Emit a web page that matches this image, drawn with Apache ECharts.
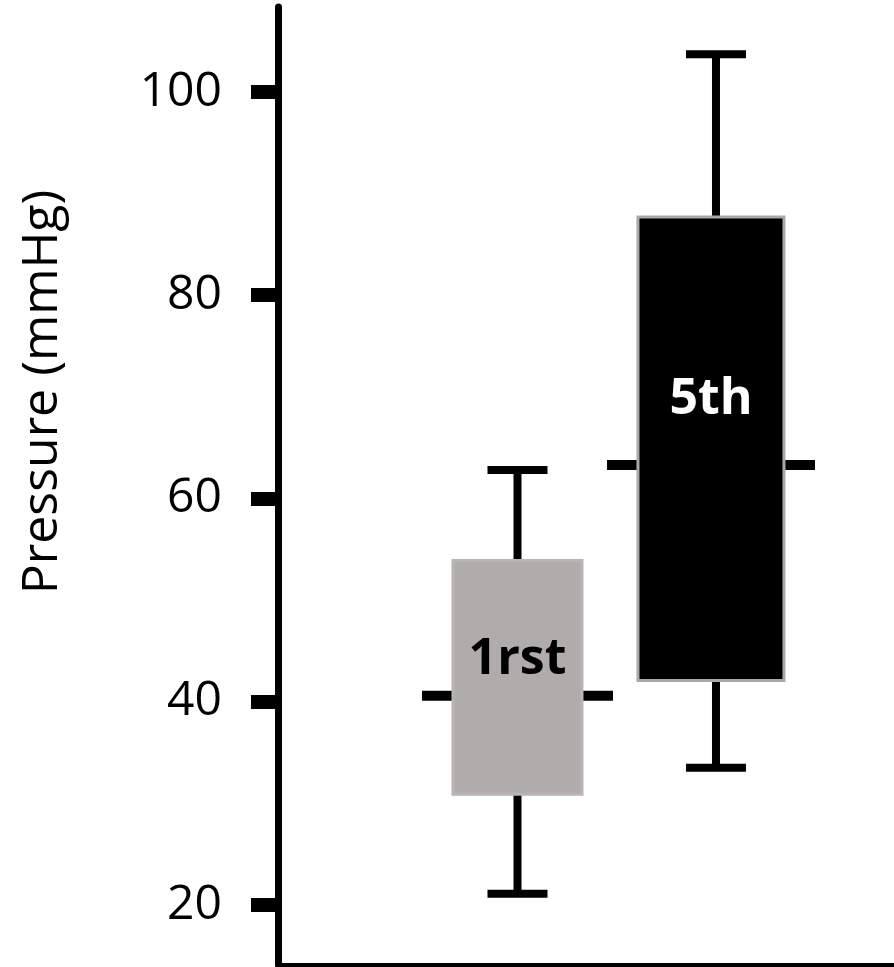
<!DOCTYPE html>
<html>
<head>
<meta charset="utf-8">
<script src="https://cdn.jsdelivr.net/npm/echarts@6/dist/echarts.min.js"></script>
<style>
  html, body { margin: 0; padding: 0; background: #fff; }
  #chart { width: 894px; height: 967px; }
</style>
</head>
<body>
<div id="chart"></div>
<script>
// ---- data ----
var categories  = ['1rst', '5th'];
var whiskerLow  = [21.1, 33.5];
var q1          = [30.9, 42.1];
var median      = [40.6, 63.3];
var q3          = [53.9, 87.7];
var whiskerHigh = [62.8, 103.7];
var yTickValues = [20, 40, 60, 80, 100];
var yAxisTitle  = 'Pressure (mmHg)';

// ---- styles ----
var boxFill     = ['#b0acab', '#000000'];
var boxStroke   = ['#b8b5b4', '#a9a9a9'];
var labelColor  = ['#000000', '#ffffff'];
var boxWidthPx  = [129, 146];
var whiskerShiftPx = [0, 5];
var labelOffsetPx  = [-36, -65];
var capHalf = 30, medianOut = 31;

var seriesData = categories.map(function (c, i) {
  return [i, whiskerLow[i], q1[i], median[i], q3[i], whiskerHigh[i]];
});

var chart = echarts.init(document.getElementById('chart'));

function renderItem(params, api) {
  var i = params.dataIndex;
  var x = api.value(0);
  var pLow = api.coord([x, api.value(1)]);
  var pQ1 = api.coord([x, api.value(2)]);
  var pMed = api.coord([x, api.value(3)]);
  var pQ3 = api.coord([x, api.value(4)]);
  var pHigh = api.coord([x, api.value(5)]);
  var cx = pMed[0];
  var wx = cx + whiskerShiftPx[i];
  var hw = boxWidthPx[i] / 2;
  var black = '#000';
  return {
    type: 'group',
    children: [
      { type: 'line', shape: { x1: wx, y1: pLow[1], x2: wx, y2: pHigh[1] },
        style: { stroke: black, lineWidth: 8 } },
      { type: 'line', shape: { x1: wx - capHalf, y1: pHigh[1], x2: wx + capHalf, y2: pHigh[1] },
        style: { stroke: black, lineWidth: 8 } },
      { type: 'line', shape: { x1: wx - capHalf, y1: pLow[1], x2: wx + capHalf, y2: pLow[1] },
        style: { stroke: black, lineWidth: 8 } },
      { type: 'line', shape: { x1: cx - hw - medianOut, y1: pMed[1], x2: cx + hw + medianOut, y2: pMed[1] },
        style: { stroke: black, lineWidth: 10 } },
      { type: 'rect', shape: { x: cx - hw, y: pQ3[1], width: hw * 2, height: pQ1[1] - pQ3[1] },
        style: { fill: boxFill[i], stroke: boxStroke[i], lineWidth: 3 } },
      { type: 'text', x: cx, y: pMed[1] + labelOffsetPx[i],
        style: { text: categories[i], fill: labelColor[i], font: 'bold 50px "Open Sans"',
                 align: 'center', verticalAlign: 'middle' } }
    ]
  };
}

chart.setOption({
  animation: false,
  grid: { left: 278, right: 0, top: 7, bottom: 2, containLabel: false },
  xAxis: {
    type: 'value', min: -1.2377, max: 1.9458,
    axisLine: { show: true, onZero: false, lineStyle: { color: '#000', width: 5 } },
    axisTick: { show: false }, axisLabel: { show: false }, splitLine: { show: false }
  },
  yAxis: {
    type: 'value', min: 14.1, max: 108.36,
    axisLine: { show: true, onZero: false, lineStyle: { color: '#000', width: 7 } },
    axisTick: { show: true, customValues: yTickValues, length: 27, lineStyle: { color: '#000', width: 14 } },
    axisLabel: { show: true, customValues: yTickValues, margin: 56, color: '#000',
                 fontFamily: 'Open Sans', fontSize: 48, padding: [0, 0, 10, 0] },
    splitLine: { show: false }
  },
  graphic: [{
    type: 'text', x: 43, y: 392, rotation: Math.PI / 2,
    style: { text: yAxisTitle, fill: '#000', font: '50px "Open Sans"', align: 'center', verticalAlign: 'middle' }
  }],
  series: [{
    type: 'custom', renderItem: renderItem, data: seriesData,
    encode: { x: 0, y: [1, 2, 3, 4, 5] }, clip: false
  }]
});
</script>
</body>
</html>
